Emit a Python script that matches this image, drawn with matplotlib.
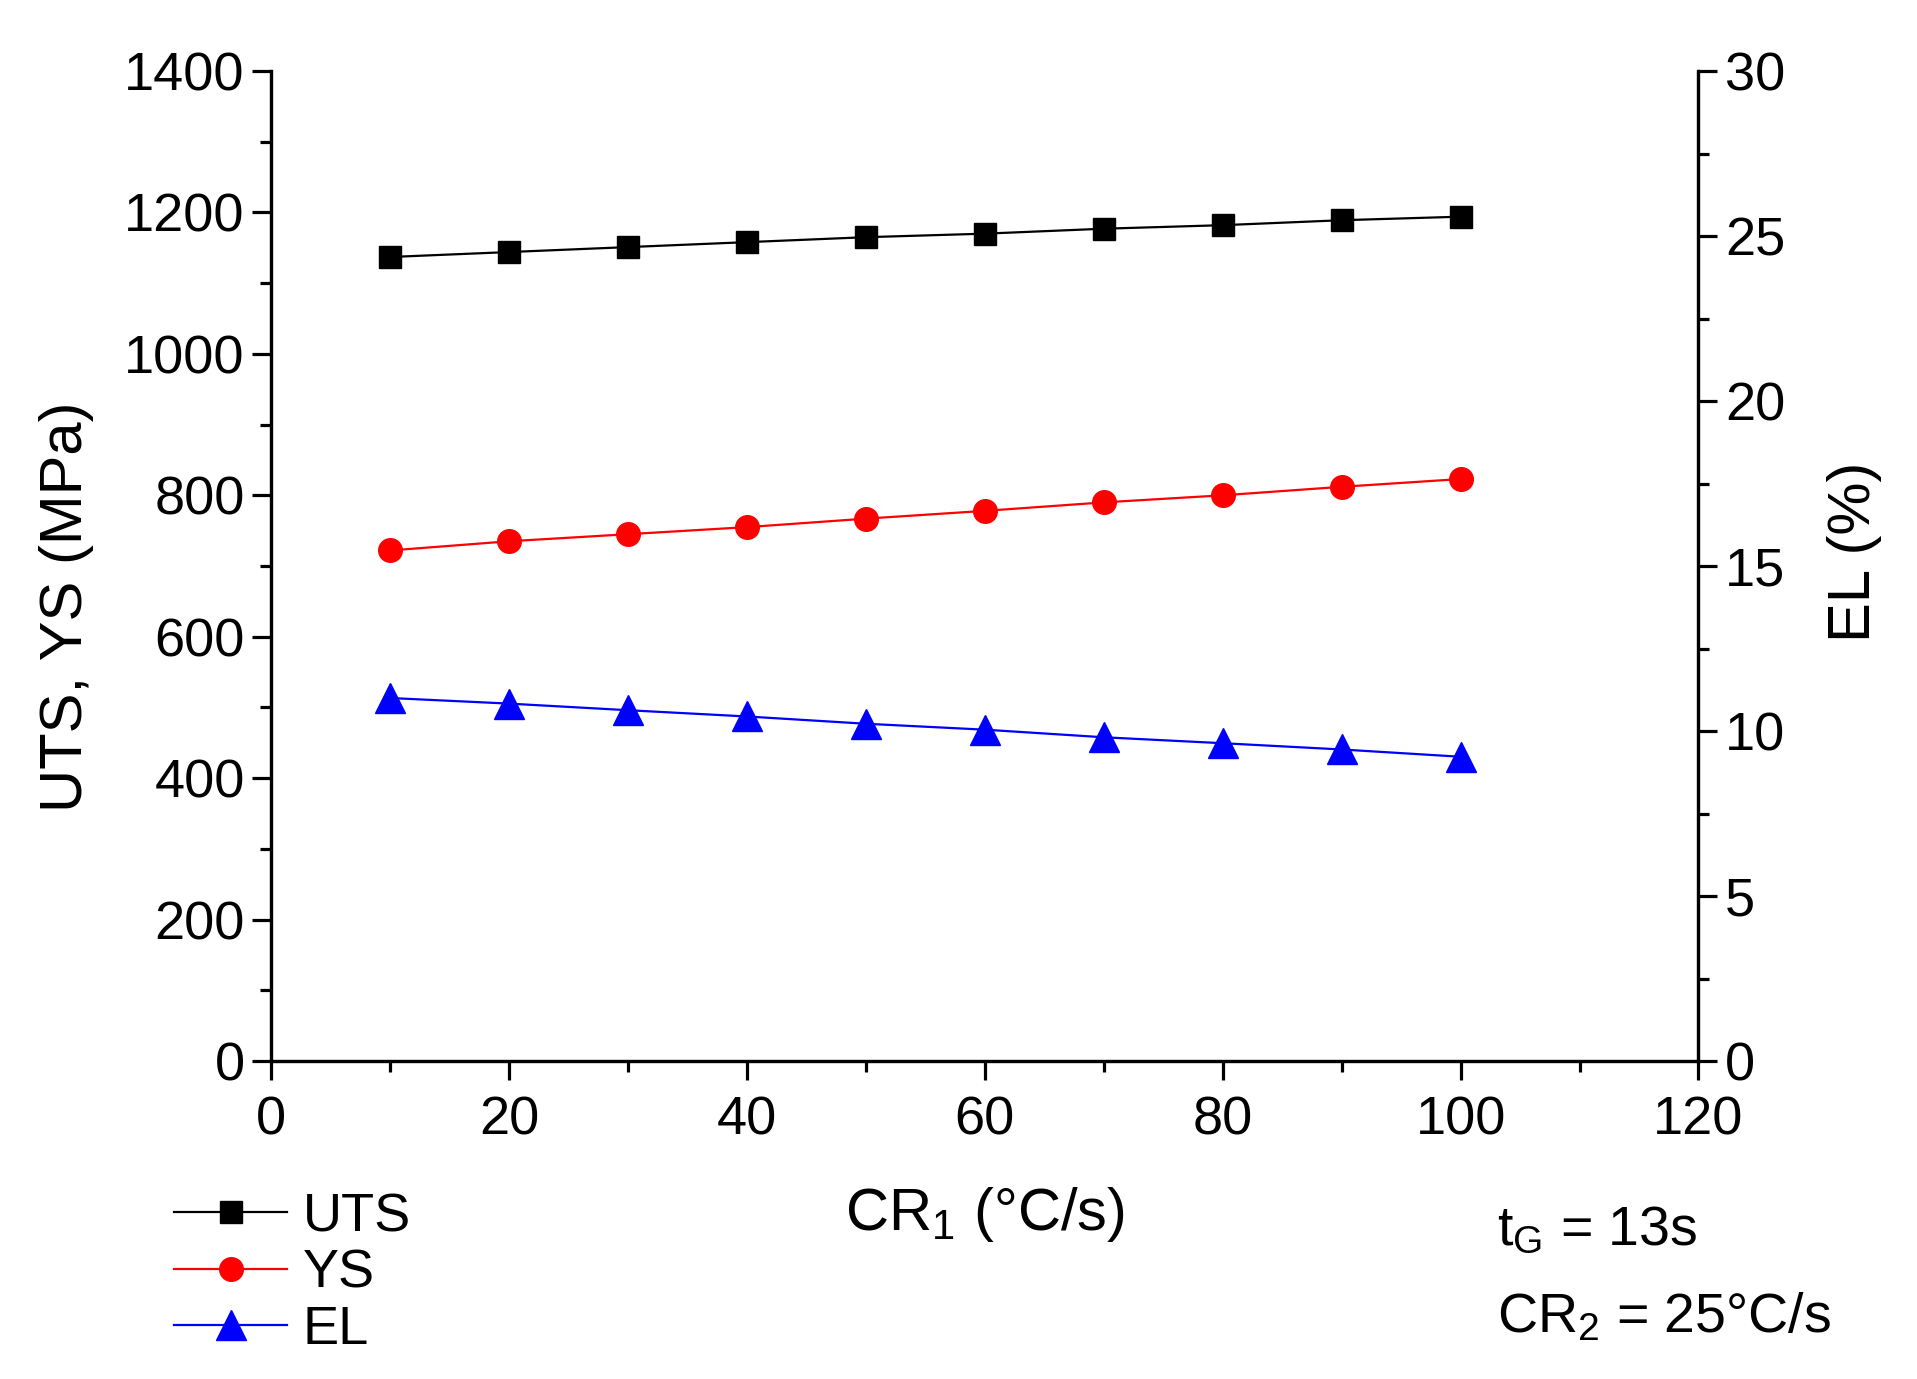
import numpy as np
import matplotlib
matplotlib.use("Agg")
import matplotlib.pyplot as plt
from matplotlib.lines import Line2D
from matplotlib.ticker import MultipleLocator

plt.rcParams['font.family'] = ['Liberation Sans', 'DejaVu Sans']
plt.rcParams['mathtext.fontset'] = 'custom'
plt.rcParams['mathtext.rm'] = 'Liberation Sans'
plt.rcParams['mathtext.it'] = 'Liberation Sans'

# data
cr1 = [10, 20, 30, 40, 50, 60, 70, 80, 90, 100]
uts = [1137, 1144, 1151, 1158, 1165, 1170, 1177, 1182, 1189, 1194]
ys = [722, 735, 745, 755, 767, 778, 790, 800, 812, 823]
el = [11.0, 10.83, 10.63, 10.44, 10.22, 10.04, 9.81, 9.63, 9.44, 9.22]

fs = 39      # ticks, legend
fs_lab = 43  # axis titles
lw_ax = 2.3

fig = plt.figure(figsize=(19.17, 13.79), dpi=100)
ax = fig.add_axes([0.1415, 0.2306, 0.8860 - 0.1415, 0.9485 - 0.2306])
ax2 = ax.twinx()

ax.plot(cr1, uts, color='black', lw=1.6, marker='s', ms=16, clip_on=False)
ax.plot(cr1, ys, color='red', lw=1.6, marker='o', ms=17, clip_on=False)
ax2.plot(cr1, el, color='blue', lw=1.6, marker='^', ms=21, clip_on=False)

ax.set_xlim(0, 120)
ax.set_ylim(0, 1400)
ax2.set_ylim(0, 30)

ax.xaxis.set_major_locator(MultipleLocator(20))
ax.xaxis.set_minor_locator(MultipleLocator(10))
ax.yaxis.set_major_locator(MultipleLocator(200))
ax.yaxis.set_minor_locator(MultipleLocator(100))
ax2.yaxis.set_major_locator(MultipleLocator(5))
ax2.yaxis.set_minor_locator(MultipleLocator(2.5))

for a in (ax, ax2):
    for s in a.spines.values():
        s.set_linewidth(lw_ax)
    a.spines['top'].set_visible(False)
    a.tick_params(which='major', direction='out', length=14, width=lw_ax,
                  labelsize=fs, pad=5)
    a.tick_params(which='minor', direction='out', length=8, width=lw_ax)
ax.tick_params(axis='x', pad=11)

ax.set_ylabel('UTS, YS (MPa)', fontsize=fs_lab, labelpad=22)
ax.yaxis.label.set_y(0.459)
ax2.set_ylabel('EL (%)', fontsize=fs_lab, labelpad=30)
ax2.yaxis.label.set_y(0.514)
ax.set_xlabel(r'CR$_{\mathrm{1}}$ (°C/s)', fontsize=fs_lab, labelpad=28)

handles = [
    Line2D([], [], color='black', lw=1.6, marker='s', ms=16),
    Line2D([], [], color='red', lw=1.6, marker='o', ms=17),
    Line2D([], [], color='blue', lw=1.6, marker='^', ms=21),
]
fig.legend(handles, ['UTS', 'YS', 'EL'], loc='upper left',
           bbox_to_anchor=(0.0765, 0.155), frameon=False,
           fontsize=fs, numpoints=1, handlelength=2.1, handletextpad=0.28,
           labelspacing=0.12, borderpad=0)

fig.text(0.781, 0.097, r't$_{\mathrm{G}}$ = 13s', fontsize=40, ha='left', va='baseline')
fig.text(0.781, 0.034, r'CR$_{\mathrm{2}}$ = 25°C/s', fontsize=40, ha='left', va='baseline')

fig.savefig('out.png', dpi=100)
